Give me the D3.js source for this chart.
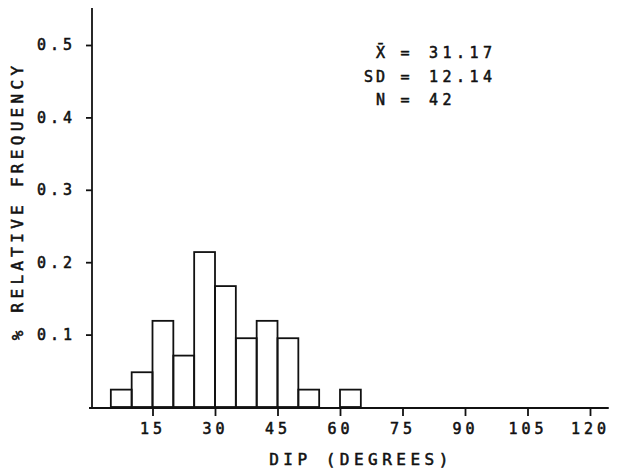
<!DOCTYPE html>
<html>
<head>
<meta charset="utf-8">
<script src="https://cdn.jsdelivr.net/npm/d3@7"></script>
<style>
  body { margin: 0; background: #fff; }
  text { font-family: "DejaVu Sans Mono", monospace; fill: #111; stroke: #111; stroke-width: 0.55px; }
</style>
</head>
<body>
<div id="chart"></div>
<script>
// bins of 5 degrees (start of bin) and relative frequency
var binStarts = [5, 10, 15, 20, 25, 30, 35, 40, 45, 50, 55, 60];
var freq = [0.024, 0.048, 0.119, 0.071, 0.214, 0.167, 0.095, 0.119, 0.095, 0.024, 0, 0.024];
var xTicks = [15, 30, 45, 60, 75, 90, 105, 120];
var yTicks = [0.1, 0.2, 0.3, 0.4, 0.5];
var statLabels = ["X\u0304", "SD", "N"];
var statValues = ["31.17", "12.14", "42"];

var width = 625, height = 472;

var svg = d3.select("#chart")
    .append("svg")
    .attr("width", width)
    .attr("height", height);

// scales
var x = d3.scaleLinear().domain([0, 120]).range([90, 590]);
var y = d3.scaleLinear().domain([0, 0.5]).range([407, 45]);

// bars
svg.append("g")
    .selectAll("rect")
    .data(binStarts)
    .enter()
    .filter(function(d, i) { return freq[i] > 0; })
    .append("rect")
    .attr("x", function(d) { return x(d); })
    .attr("y", function(d) { return y(freq[binStarts.indexOf(d)]); })
    .attr("width", function(d) { return x(d + 5) - x(d); })
    .attr("height", function(d) { return y(0) - y(freq[binStarts.indexOf(d)]); })
    .style("fill", "none")
    .style("stroke", "#111")
    .style("stroke-width", 1.8);

// x axis
var xAxis = svg.append("g")
    .attr("transform", "translate(0," + (y(0) + 1) + ")")
    .call(d3.axisBottom(x).tickValues(xTicks).tickSize(8).tickPadding(7).tickSizeOuter(0));
xAxis.select(".domain").attr("d", "M" + (x(0) - 1) + ",0H" + x(124.5));
xAxis.selectAll("path, line").style("stroke", "#111").style("stroke-width", 1.8);
xAxis.selectAll("text")
    .attr("font-size", 15)
    .style("letter-spacing", "4px")
    .style("font-family", "\"DejaVu Sans Mono\", monospace");

// y axis
var yAxis = svg.append("g")
    .attr("transform", "translate(" + 92 + ",0)")
    .call(d3.axisLeft(y).tickValues(yTicks).tickFormat(d3.format(".1f")).tickSize(6).tickPadding(10).tickSizeOuter(0));
yAxis.select(".domain").attr("d", "M0,8V" + (y(0) + 2));
yAxis.selectAll("path, line").style("stroke", "#111").style("stroke-width", 1.8);
yAxis.selectAll("text")
    .attr("font-size", 15)
    .style("letter-spacing", "4px")
    .style("font-family", "\"DejaVu Sans Mono\", monospace");

// axis labels
svg.append("text")
    .attr("text-anchor", "middle")
    .attr("font-size", 16)
    .style("letter-spacing", "4.5px")
    .attr("x", 361)
    .attr("y", 465)
    .text("DIP (DEGREES)");

svg.append("text")
    .attr("transform", "rotate(-90)")
    .attr("x", -201)
    .attr("y", 23)
    .attr("text-anchor", "middle")
    .attr("font-size", 16)
    .style("letter-spacing", "4.3px")
    .text("% RELATIVE FREQUENCY");

// statistics block
var stats = svg.append("g");
stats.selectAll(".lab")
    .data(statLabels)
    .enter()
    .append("text")
    .attr("x", 388)
    .attr("y", function(d, i) { return 58 + i * 23.5; })
    .attr("text-anchor", "end")
    .attr("font-size", 15)
    .style("letter-spacing", "3px")
    .text(function(d) { return d; });
stats.selectAll(".eq")
    .data(statLabels)
    .enter()
    .append("text")
    .attr("x", 405)
    .attr("y", function(d, i) { return 58 + i * 23.5; })
    .attr("text-anchor", "middle")
    .attr("font-size", 15)
    .text("=");
stats.selectAll(".val")
    .data(statValues)
    .enter()
    .append("text")
    .attr("x", 429)
    .attr("y", function(d, i) { return 58 + i * 23.5; })
    .attr("font-size", 15)
    .style("letter-spacing", "4.5px")
    .text(function(d) { return d; });
</script>
</body>
</html>
